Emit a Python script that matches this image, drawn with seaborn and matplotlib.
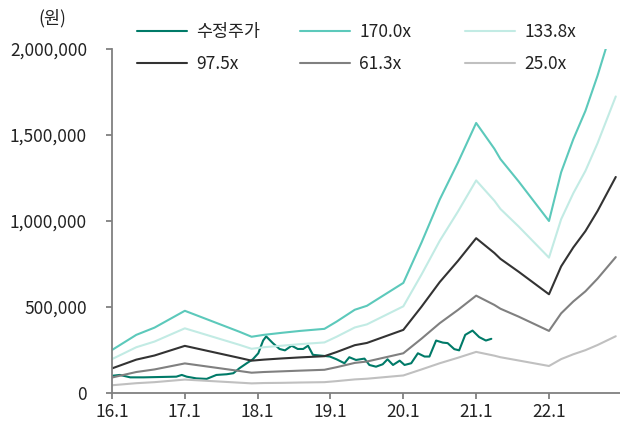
import pandas as pd
import numpy as np
import matplotlib
matplotlib.use("Agg")
import matplotlib.pyplot as plt
import seaborn as sns
from matplotlib.ticker import FuncFormatter

# months counted from 2016.1
band_months = [0, 4, 7, 12, 21, 23, 25, 28, 31, 35, 37, 40, 42, 48, 51, 54, 57, 60,
               63, 64, 67, 72, 74, 76, 78, 80, 83]

# PER band values (thousand won)
band_170 = [250, 338, 380, 478, 356, 327, 338, 350, 361, 373, 415, 484, 507, 640, 875,
            1125, 1340, 1570, 1420, 1360, 1230, 1000, 1283, 1475, 1640, 1845, 2190]
band_133 = [197, 266, 299, 376, 280, 257, 266, 275, 284, 294, 327, 381, 399, 504, 689,
            885, 1055, 1236, 1118, 1070, 968, 787, 1010, 1161, 1291, 1452, 1724]
band_97 = [143, 194, 218, 274, 204, 188, 194, 201, 207, 214, 238, 278, 291, 367, 502,
           645, 768, 900, 814, 780, 705, 574, 736, 846, 941, 1058, 1256]
band_61 = [90, 122, 137, 172, 128, 118, 122, 126, 130, 135, 150, 175, 183, 231, 316,
           406, 483, 566, 512, 490, 444, 361, 463, 532, 591, 665, 790]
band_25 = [45, 57, 63, 78, 60, 56, 58, 59, 61, 63, 69, 79, 83, 102, 137, 173, 205, 239,
           217, 208, 189, 157, 197, 225, 249, 279, 330]

# adjusted share price (thousand won)
price_months = [0, 1.3, 3, 5.2, 10.6, 11.5, 12.3, 13.9, 15.6, 17.2, 18.9, 20, 21, 22.2,
                23.2, 24.1, 24.9, 25.4, 26.5, 27.6, 28.5, 29.6, 30.6, 31.5, 32.3, 33.1,
                34.8, 35.9, 37, 38.3, 39.1, 40.2, 41.6, 42.4, 43.5, 44.6, 45.4, 46.3,
                47.4, 48.2, 49.3, 50.4, 51.5, 52.3, 53.4, 54.5, 55.3, 56.4, 57.2, 58.2,
                59.4, 60.5, 61.6, 62.5]
price = [100, 105, 91, 91, 95, 105, 95, 85, 82, 105, 109, 115, 144, 173, 196, 231, 305,
         329, 290, 256, 248, 275, 256, 256, 275, 222, 216, 212, 196, 173, 208, 192, 200,
         163, 153, 167, 196, 163, 188, 163, 173, 231, 212, 212, 305, 293, 290, 255, 248,
         338, 363, 325, 305, 315]

series_names = ["수정주가", "170.0x", "133.8x", "97.5x", "61.3x", "25.0x"]
colors = ["#007a68", "#5cc9bb", "#c2ebe4", "#333333", "#808080", "#c0c0c0"]

tick_months = [0, 12, 24, 36, 48, 60, 72]
tick_labels = ["16.1", "17.1", "18.1", "19.1", "20.1", "21.1", "22.1"]

frames = [pd.DataFrame({"month": price_months, "value": np.array(price) * 1000,
                        "series": "수정주가"})]
for name, vals in zip(series_names[1:], [band_170, band_133, band_97, band_61, band_25]):
    frames.append(pd.DataFrame({"month": band_months, "value": np.array(vals) * 1000,
                                "series": name}))
df = pd.concat(frames, ignore_index=True)

sns.set_style("ticks")
plt.rcParams["font.family"] = ["Noto Sans CJK KR", "DejaVu Sans"]

fig = plt.figure(figsize=(6.2, 4.21), dpi=100)
ax = fig.add_axes([112 / 620, 28 / 421, 508 / 620, 344 / 421])

sns.lineplot(data=df, x="month", y="value", hue="series", hue_order=series_names,
             palette=dict(zip(series_names, colors)), estimator=None, linewidth=1.5,
             ax=ax, legend=True)

handles, labels = ax.get_legend_handles_labels()
ax.get_legend().remove()
for line in ax.get_lines():
    if line.get_label() == "수정주가":
        line.set_zorder(5)

ax.set_xlim(0, 83.7)
ax.set_ylim(0, 2000000)
ax.set_xticks(tick_months)
ax.set_xticklabels(tick_labels)
ax.set_yticks([0, 500000, 1000000, 1500000, 2000000])
ax.yaxis.set_major_formatter(FuncFormatter(lambda v, p: f"{v:,.0f}"))
ax.set_xlabel("")
ax.set_ylabel("")

for side in ["top", "right"]:
    ax.spines[side].set_visible(False)
for side in ["left", "bottom"]:
    ax.spines[side].set_color("#808080")
    ax.spines[side].set_linewidth(1.3)
ax.tick_params(axis="both", colors="#808080", width=1.3, length=4,
               labelsize=12.5, labelcolor="#222222")
ax.tick_params(axis="y", pad=14)

fig.text(52 / 620, 1 - 18 / 421, "(원)", ha="center", va="center", fontsize=12.5,
         color="#222222")

# legend: three columns, each a separate legend to keep equal spacing
col_x = [137, 300, 465]
lookup = dict(zip(labels, handles))
for i, x0 in enumerate(col_x):
    names = [series_names[i], series_names[i + 3]]
    leg = fig.legend([lookup[n] for n in names], names, loc="upper left",
                     bbox_to_anchor=(x0 / 620, 1 - 23 / 421), frameon=False,
                     fontsize=12.5, handlelength=2.9, handletextpad=0.5,
                     borderpad=0, borderaxespad=0, labelspacing=0.8)
    for t in leg.get_texts():
        t.set_color("#222222")

fig.savefig("out.png", dpi=100)
